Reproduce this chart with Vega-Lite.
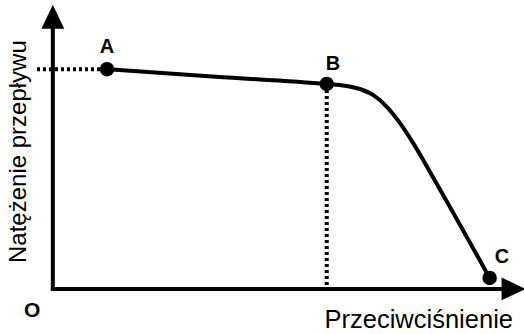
{
  "$schema": "https://vega.github.io/schema/vega-lite/v6.json",
  "width": 524,
  "height": 334,
  "padding": 0,
  "autosize": "none",
  "background": "white",
  "config": {"view": {"stroke": null}},
  "datasets": {
    "curve": [
      {"p": 1.23, "q": 10.0},
      {"p": 3.7, "q": 9.66},
      {"p": 6.22, "q": 9.33},
      {"p": 6.52, "q": 9.28},
      {"p": 6.97, "q": 9.1},
      {"p": 7.27, "q": 8.83},
      {"p": 7.59, "q": 8.28},
      {"p": 7.88, "q": 7.56},
      {"p": 8.18, "q": 6.65},
      {"p": 8.63, "q": 5.1},
      {"p": 9.92, "q": 0.5}
    ],
    "points": [
      {"name": "A", "p": 1.23, "q": 10.0},
      {"name": "B", "p": 6.22, "q": 9.33},
      {"name": "C", "p": 9.92, "q": 0.5}
    ],
    "axes": [
      {"p": 0, "q": 0, "p2": 0, "q2": 11.8},
      {"p": 0, "q": 0, "p2": 10.22, "q2": 0}
    ],
    "guides": [
      {"p": -0.36, "q": 10.0, "p2": 1.23, "q2": 10.0},
      {"p": 6.22, "q": 9.33, "p2": 6.22, "q2": 0}
    ],
    "heads": [
      {"p": 0, "q": 12.36, "dir": "up"},
      {"p": 10.45, "q": 0, "dir": "right"}
    ],
    "pointLabels": [
      {"label": "A", "p": 1.23, "q": 10.74},
      {"label": "B", "p": 6.36, "q": 9.97},
      {"label": "C", "p": 10.2, "q": 1.18}
    ],
    "origin": [{"label": "O", "p": -0.47, "q": -1.27}],
    "xTitle": [{"label": "Przeciwciśnienie", "p": 8.31, "q": -1.78}],
    "yTitle": [{"label": "Natężenie przepływu", "p": -0.62, "q": 6.25}]
  },
  "layer": [
    {
      "data": {"name": "axes"},
      "mark": {"type": "rule", "strokeWidth": 4, "color": "black", "strokeCap": "square"},
      "encoding": {
        "x": {"field": "p", "type": "quantitative", "scale": {"domain": [-1.2, 10.7], "nice": false, "zero": false}, "axis": null},
        "y": {"field": "q", "type": "quantitative", "scale": {"domain": [-2.05, 13.15], "nice": false, "zero": false}, "axis": null},
        "x2": {"field": "p2"},
        "y2": {"field": "q2"}
      }
    },
    {
      "data": {"name": "heads"},
      "transform": [{"filter": "datum.dir === 'up'"}],
      "mark": {"type": "point", "shape": "M0,-1.1L-1,1L1,1Z", "filled": true, "color": "black", "size": 520, "opacity": 1},
      "encoding": {
        "x": {"field": "p", "type": "quantitative"},
        "y": {"field": "q", "type": "quantitative"}
      }
    },
    {
      "data": {"name": "heads"},
      "transform": [{"filter": "datum.dir === 'right'"}],
      "mark": {"type": "point", "shape": "M1.1,0L-1,-1L-1,1Z", "filled": true, "color": "black", "size": 520, "opacity": 1},
      "encoding": {
        "x": {"field": "p", "type": "quantitative"},
        "y": {"field": "q", "type": "quantitative"}
      }
    },
    {
      "data": {"name": "guides"},
      "mark": {"type": "rule", "strokeWidth": 4, "color": "black", "strokeDash": [3, 3]},
      "encoding": {
        "x": {"field": "p", "type": "quantitative"},
        "y": {"field": "q", "type": "quantitative"},
        "x2": {"field": "p2"},
        "y2": {"field": "q2"}
      }
    },
    {
      "data": {"name": "curve"},
      "mark": {"type": "line", "strokeWidth": 4, "color": "black", "interpolate": "monotone", "strokeCap": "round"},
      "encoding": {
        "x": {"field": "p", "type": "quantitative", "sort": null},
        "y": {"field": "q", "type": "quantitative"}
      }
    },
    {
      "data": {"name": "points"},
      "mark": {"type": "circle", "color": "black", "size": 210, "opacity": 1},
      "encoding": {
        "x": {"field": "p", "type": "quantitative"},
        "y": {"field": "q", "type": "quantitative"}
      }
    },
    {
      "data": {"name": "pointLabels"},
      "mark": {"type": "text", "font": "Liberation Sans", "fontWeight": "bold", "fontSize": 20, "align": "center", "baseline": "alphabetic", "color": "black"},
      "encoding": {
        "x": {"field": "p", "type": "quantitative"},
        "y": {"field": "q", "type": "quantitative"},
        "text": {"field": "label"}
      }
    },
    {
      "data": {"name": "origin"},
      "mark": {"type": "text", "font": "Liberation Sans", "fontWeight": "bold", "fontSize": 21, "align": "center", "baseline": "alphabetic", "color": "black"},
      "encoding": {
        "x": {"field": "p", "type": "quantitative"},
        "y": {"field": "q", "type": "quantitative"},
        "text": {"field": "label"}
      }
    },
    {
      "data": {"name": "xTitle"},
      "mark": {"type": "text", "font": "Liberation Sans", "fontSize": 25.5, "align": "center", "baseline": "alphabetic", "color": "black"},
      "encoding": {
        "x": {"field": "p", "type": "quantitative"},
        "y": {"field": "q", "type": "quantitative"},
        "text": {"field": "label"}
      }
    },
    {
      "data": {"name": "yTitle"},
      "mark": {"type": "text", "font": "Liberation Sans", "fontSize": 24, "align": "center", "baseline": "alphabetic", "angle": 270, "color": "black"},
      "encoding": {
        "x": {"field": "p", "type": "quantitative"},
        "y": {"field": "q", "type": "quantitative"},
        "text": {"field": "label"}
      }
    }
  ]
}
